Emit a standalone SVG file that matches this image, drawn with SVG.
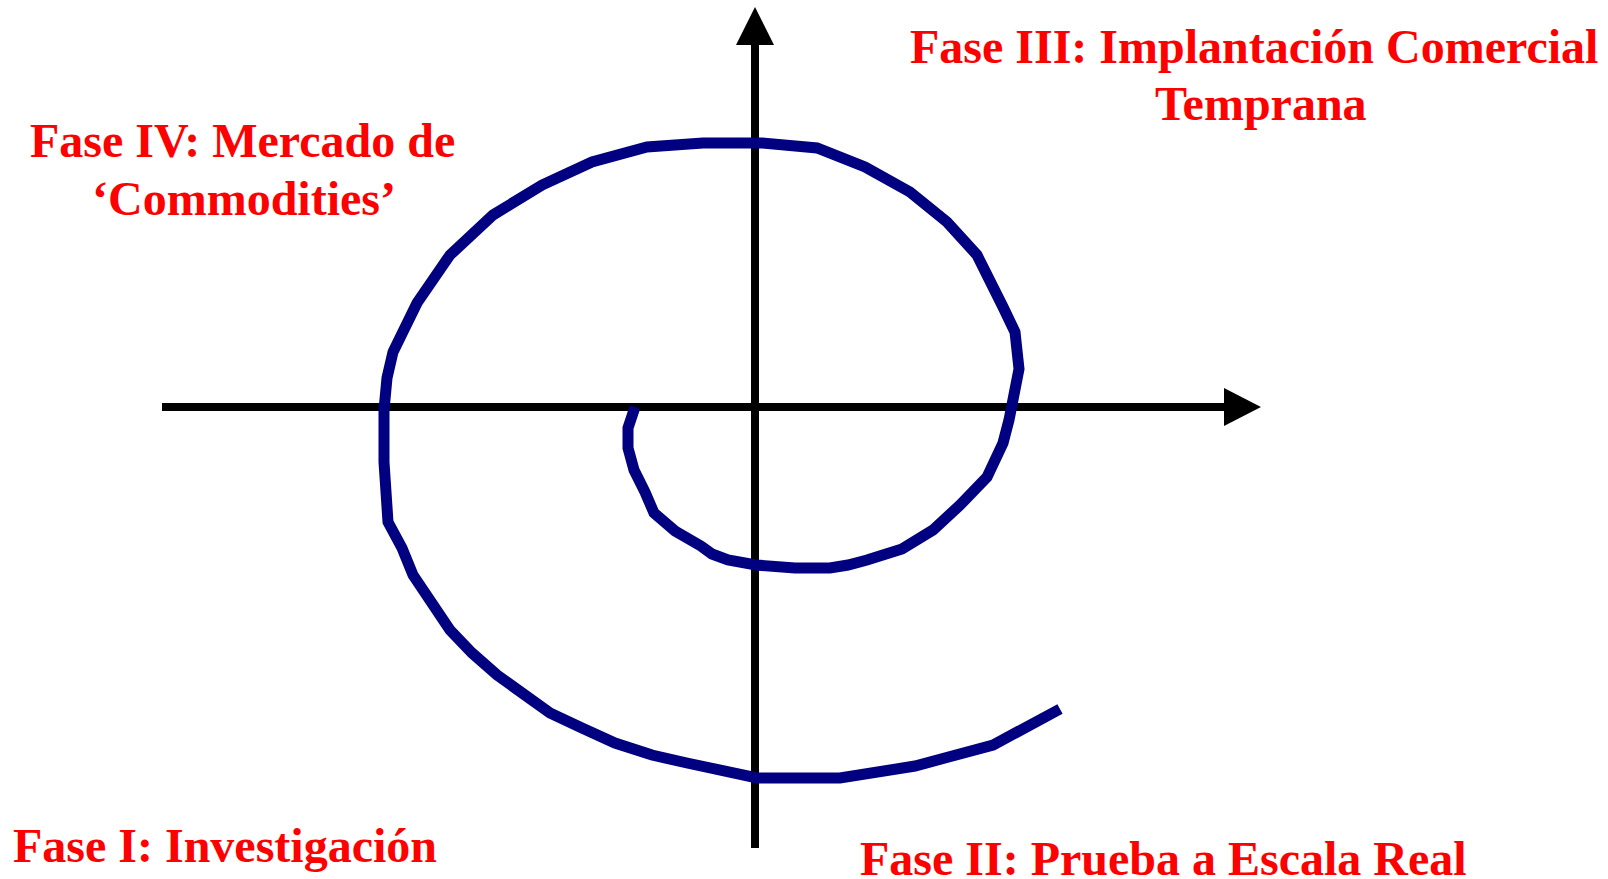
<svg xmlns="http://www.w3.org/2000/svg" width="1608" height="879" viewBox="0 0 1608 879">
<style>
.lbl{font-family:"Liberation Serif","Times New Roman",serif;font-weight:bold;font-size:48px;fill:#FF0000}
.axis{stroke:#000000;stroke-width:8;fill:none}
.spiral{stroke:#000080;stroke-width:11;fill:none;stroke-linejoin:miter;stroke-linecap:butt}
</style>
<rect width="1608" height="879" fill="#FFFFFF"/>
<g id="connectors">
<line class="axis" x1="162" y1="407" x2="1226" y2="407"/>
<polygon points="1224,388 1261,407 1224,426" fill="#000000"/>
<line class="axis" x1="755" y1="43" x2="755" y2="848"/>
<polygon points="736,45 755,7 774,45" fill="#000000"/>
<polyline class="spiral" points="635,407 628,428 628,448 634,470 645,492 654,513 675,531 701,546 712,554 728,560 756,565 795,568 830,568 848,565 867,560 902,549 933,530 960,505 987,477 1003,443 1009,420 1019,369 1015,332 1003,307 977,255 947,222 910,192 865,167 817,148 762,143 703,143 647,147 592,162 542,185 493,215 450,255 417,303 393,352 387,378 384,410 384,462 388,522 402,548 413,575 450,630 472,653 497,675 550,713 582,728 615,743 652,755 687,763 757,778 840,778 915,766 993,745 1060,709"/>
</g>
<g id="fase-iv">
<text class="lbl" x="30" y="157">Fase IV: Mercado de</text>
<text class="lbl" x="244" y="215" text-anchor="middle">‘Commodities’</text>
</g>
<g id="fase-iii">
<text class="lbl" x="910" y="63">Fase III: Implantación Comercial</text>
<text class="lbl" x="1155" y="120">Temprana</text>
</g>
<g id="fase-i">
<text class="lbl" x="13" y="862">Fase I: Investigación</text>
</g>
<g id="fase-ii">
<text class="lbl" x="860" y="875">Fase II: Prueba a Escala Real</text>
</g>
</svg>
